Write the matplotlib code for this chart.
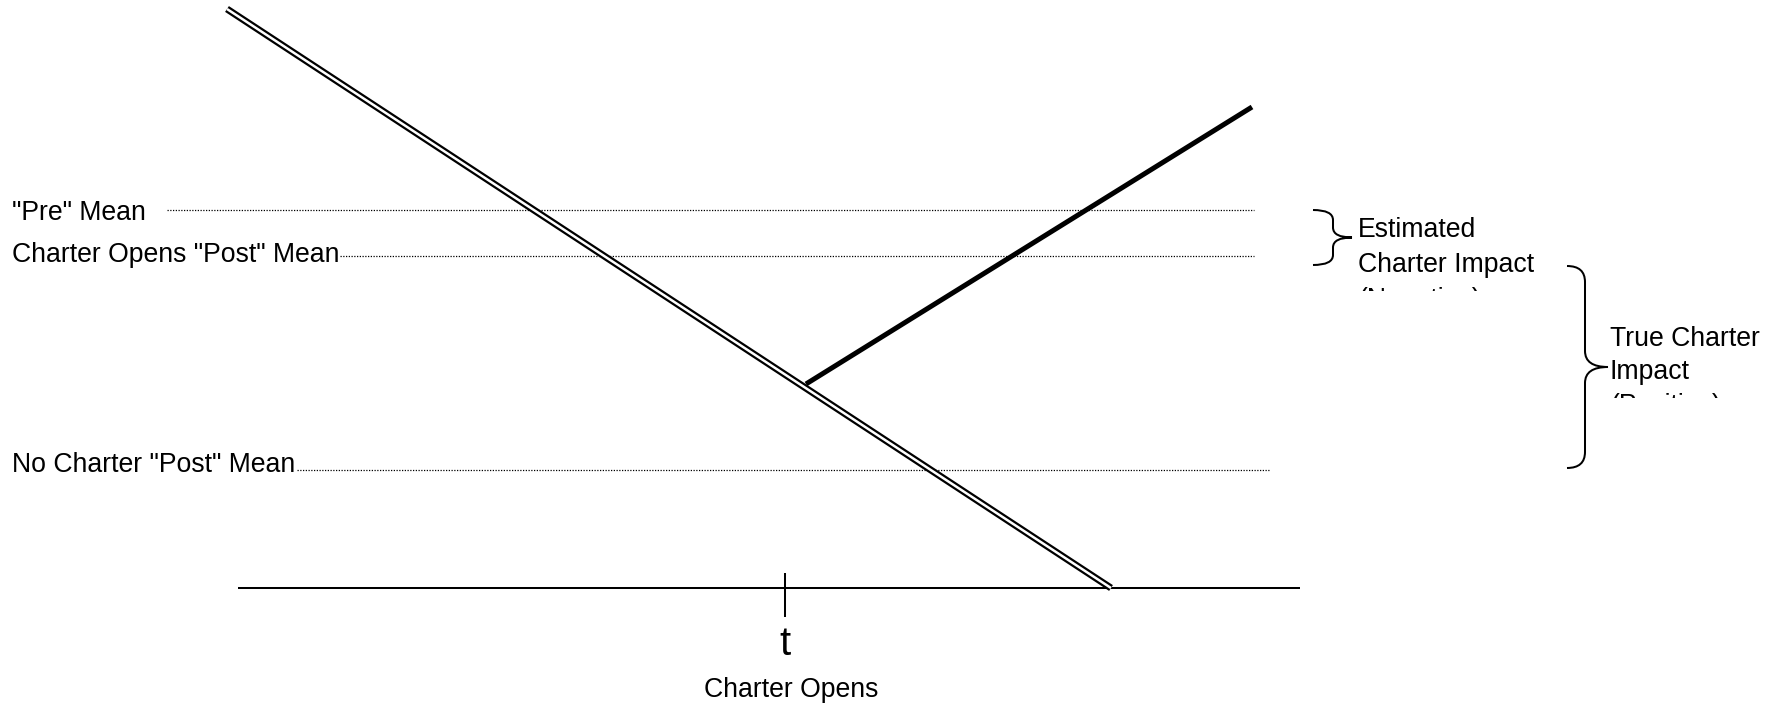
import matplotlib
matplotlib.use("Agg")
import matplotlib.pyplot as plt
from matplotlib.path import Path
from matplotlib.patches import PathPatch, Rectangle

plt.rcParams['font.family'] = ['Liberation Sans', 'DejaVu Sans']

# ---- schematic data (diagram units: x grows right, y grows downward) ----
no_charter_trend_x = [227, 1111]
no_charter_trend_y = [9, 588]
charter_trend_x = [806, 1252]
charter_trend_y = [384, 107]

mean_labels = ['"Pre" Mean', 'Charter Opens "Post" Mean', 'No Charter "Post" Mean']
mean_levels = [210, 256, 470]
mean_label_baselines = [220, 262, 472]
mean_line_start = [167, 340, 297]
mean_line_end = [1254, 1254, 1270]

time_axis_x = [238, 1300]
time_axis_level = 588
charter_open_time = 785
time_tick_span = [573, 617]

est_brace = dict(tip=1313, spine=1333, point=1352, top=210, bottom=265)
true_brace = dict(tip=1567, spine=1585, point=1608, top=266, bottom=468)
est_lines = ['Estimated', 'Charter Impact', '(Negative)']
est_baselines = [237, 272, 307]
est_clip = 291
true_lines = ['True Charter', 'Impact', '(Positive)']
true_baselines = [346, 379, 413]
true_clip = 398

W, H = 1779, 704
fig = plt.figure(figsize=(W / 100, H / 100), dpi=100)
ax = fig.add_axes([0, 0, 1, 1])
ax.set_xlim(0, W)
ax.set_ylim(H, 0)
ax.axis('off')

FS = 19.2

# double line (no-charter trend)
ax.plot(no_charter_trend_x, no_charter_trend_y, color='black', lw=5.0,
        solid_capstyle='butt', zorder=3)
ax.plot(no_charter_trend_x, no_charter_trend_y, color='white', lw=1.8,
        solid_capstyle='butt', zorder=4)

# charter trend (thick)
ax.plot(charter_trend_x, charter_trend_y, color='black', lw=3.6,
        solid_capstyle='butt', zorder=5)

# dotted mean lines and labels
for lab, lvl, base, x0, x1 in zip(mean_labels, mean_levels, mean_label_baselines,
                                  mean_line_start, mean_line_end):
    ax.plot([x0, x1], [lvl, lvl], color='black', lw=0.9,
            linestyle=(0, (1, 1.2)), zorder=2)
    ax.text(12.5, base, lab, fontsize=FS, ha='left', va='baseline')

# time axis
ax.plot(time_axis_x, [time_axis_level, time_axis_level], color='black', lw=1.45,
        solid_capstyle='butt', zorder=2)
ax.plot([charter_open_time, charter_open_time], time_tick_span, color='black',
        lw=1.45, solid_capstyle='butt', zorder=2)
ax.text(charter_open_time, 655, 't', fontsize=29, ha='center', va='baseline')
ax.text(791, 697, 'Charter Opens', fontsize=FS, ha='center', va='baseline')


def brace(b, r):
    tip, sp, pt, y0, y1 = b['tip'], b['spine'], b['point'], b['top'], b['bottom']
    ym = (y0 + y1) / 2
    verts = [(tip, y0), (sp, y0), (sp, y0 + r),
             (sp, ym - r), (sp, ym), (pt, ym),
             (sp, ym), (sp, ym + r),
             (sp, y1 - r), (sp, y1), (tip, y1)]
    codes = [Path.MOVETO, Path.CURVE3, Path.CURVE3,
             Path.LINETO, Path.CURVE3, Path.CURVE3,
             Path.CURVE3, Path.CURVE3,
             Path.LINETO, Path.CURVE3, Path.CURVE3]
    ax.add_patch(PathPatch(Path(verts, codes), facecolor='none',
                           edgecolor='black', lw=1.45, zorder=3))


brace(est_brace, 10)
brace(true_brace, 16)


def clipped_lines(x, lines, baselines, clip_y):
    clip = Rectangle((x - 20, 0), 400, clip_y, transform=ax.transData)
    for s, b in zip(lines, baselines):
        t = ax.text(x, b, s, fontsize=FS, ha='left', va='baseline', clip_on=True)
        t.set_clip_path(clip)


clipped_lines(1358, est_lines, est_baselines, est_clip)
clipped_lines(1610, true_lines, true_baselines, true_clip)

fig.savefig('out.png', dpi=100)
